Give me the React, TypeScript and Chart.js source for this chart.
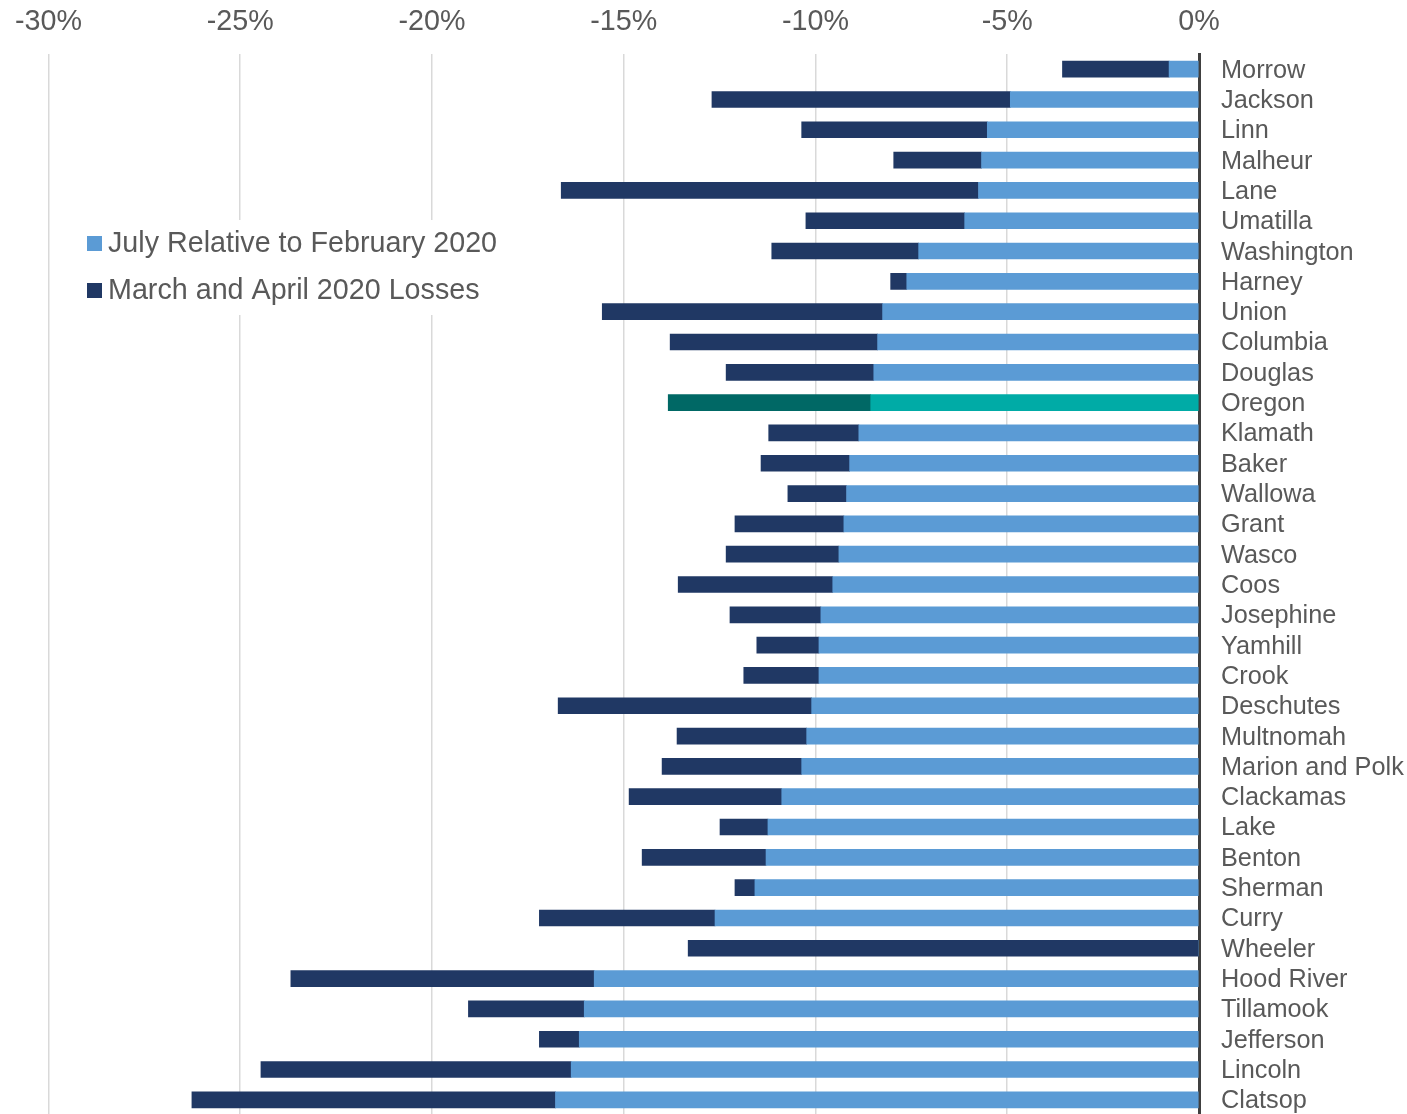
import React, { useEffect, useRef } from "react";
import { Chart, registerables } from "chart.js";

Chart.register(...registerables);

const counties = [
  "Morrow", "Jackson", "Linn", "Malheur", "Lane", "Umatilla", "Washington", "Harney",
  "Union", "Columbia", "Douglas", "Oregon", "Klamath", "Baker", "Wallowa", "Grant",
  "Wasco", "Coos", "Josephine", "Yamhill", "Crook", "Deschutes", "Multnomah",
  "Marion and Polk", "Clackamas", "Lake", "Benton", "Sherman", "Curry", "Wheeler",
  "Hood River", "Tillamook", "Jefferson", "Lincoln", "Clatsop",
];

// July employment relative to February 2020 (%)
const julyRelative = [
  -0.78, -4.92, -5.52, -5.67, -5.75, -6.11, -7.31, -7.62,
  -8.25, -8.38, -8.48, -8.56, -8.87, -9.11, -9.19, -9.26,
  -9.39, -9.55, -9.86, -9.91, -9.91, -10.10, -10.23,
  -10.36, -10.88, -11.24, -11.29, -11.58, -12.62, 0,
  -15.77, -16.03, -16.16, -16.37, -16.78,
];

// Additional March and April 2020 losses (%)
const marchAprilLosses = [
  -2.78, -7.78, -4.84, -2.29, -10.88, -4.14, -3.83, -0.42,
  -7.31, -5.41, -3.85, -5.28, -2.35, -2.31, -1.53, -2.84,
  -2.94, -4.03, -2.37, -1.62, -1.96, -6.61, -3.38,
  -3.64, -3.98, -1.25, -3.23, -0.52, -4.58, -13.32,
  -7.91, -3.02, -1.04, -8.09, -9.48,
];

const seriesNames = ["July Relative to February 2020", "March and April 2020 Losses"];
const xMin = -30;
const xMax = 0;
const xStep = 5;
const highlight = "Oregon";

const LIGHT = "#5B9BD5";
const DARK = "#203864";
const TEAL = "#00ABA6";
const DARK_TEAL = "#006865";
const TEXT = "#595959";
const FONT = "'Liberation Sans', Arial, sans-serif";

const legendPlugin = {
  id: "insideLegend",
  afterDraw(chart: any) {
    const ctx = chart.ctx;
    ctx.save();
    ctx.fillStyle = "#ffffff";
    ctx.fillRect(75, 220, 440, 95);
    const items = [
      { label: seriesNames[0], color: LIGHT, cy: 243.5 },
      { label: seriesNames[1], color: DARK, cy: 290.5 },
    ];
    ctx.font = `28.7px ${FONT}`;
    ctx.textBaseline = "middle";
    ctx.textAlign = "left";
    for (const it of items) {
      ctx.fillStyle = it.color;
      ctx.fillRect(87, it.cy - 7.5, 15, 15);
      ctx.fillStyle = TEXT;
      ctx.fillText(it.label, 108, it.cy + 1);
    }
    ctx.restore();
  },
};

export default function App() {
  const ref = useRef<HTMLCanvasElement | null>(null);

  useEffect(() => {
    if (!ref.current) return;
    const colorsFor = (base: string, hl: string) =>
      counties.map((c) => (c === highlight ? hl : base));
    const chart = new Chart(ref.current, {
      type: "bar",
      data: {
        labels: counties,
        datasets: [
          {
            label: seriesNames[0],
            data: julyRelative,
            backgroundColor: colorsFor(LIGHT, TEAL),
            borderWidth: 0,
            barThickness: 16,
          },
          {
            label: seriesNames[1],
            data: marchAprilLosses,
            backgroundColor: colorsFor(DARK, DARK_TEAL),
            borderWidth: 0,
            barThickness: 16,
          },
        ],
      },
      options: {
        indexAxis: "y",
        responsive: false,
        animation: false,
        layout: { padding: { left: 46, right: 0, top: 0, bottom: 0 } },
        plugins: {
          legend: { display: false },
          tooltip: { enabled: false },
        },
        scales: {
          x: {
            position: "top",
            stacked: true,
            min: xMin,
            max: xMax,
            grid: { color: "#D9D9D9", lineWidth: 1.5, drawTicks: false },
            border: { display: false },
            ticks: {
              stepSize: xStep,
              padding: 15,
              color: TEXT,
              font: { size: 28.7, family: FONT },
              callback: (v: any) => `${Math.round(Number(v))}%`,
            },
            afterFit: (s: any) => {
              s.height = 54;
            },
          },
          y: {
            position: "right",
            stacked: true,
            grid: { display: false, drawTicks: false },
            border: { display: true, color: "#404040", width: 3 },
            ticks: {
              autoSkip: false,
              padding: 22,
              labelOffset: 1.5,
              color: TEXT,
              font: { size: 25.3, family: FONT },
            },
            afterFit: (s: any) => {
              s.width = 208;
              s.paddingTop = 0;
              s.paddingBottom = 0;
            },
          },
        },
      },
      plugins: [legendPlugin],
    });
    return () => chart.destroy();
  }, []);

  return (
    <div style={{ position: "fixed", left: 0, top: 0, width: 1407, height: 1114, overflow: "hidden", background: "#fff" }}>
      <canvas ref={ref} width={1407} height={1115} style={{ display: "block" }} />
    </div>
  );
}
